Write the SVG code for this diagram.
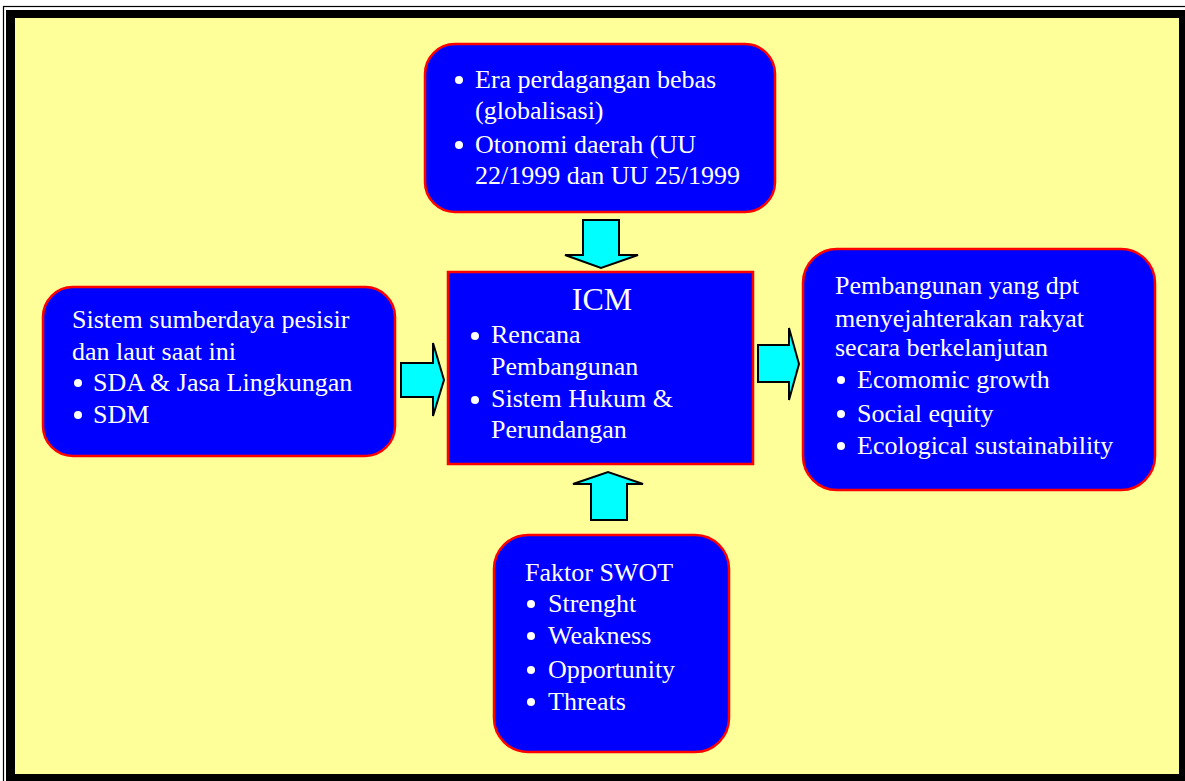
<svg xmlns="http://www.w3.org/2000/svg" width="1185" height="781" viewBox="0 0 1185 781">
<defs>
<style>
.box{fill:#0000FF;stroke:#FF0000;stroke-width:2.5}
.t{font-family:"Liberation Serif","Times New Roman",Tinos,"DejaVu Serif",serif;font-size:26px;fill:#FFFFFF}
.b{fill:#FFFFFF}
.arr{fill:#00FFFF;stroke:#000000;stroke-width:2;stroke-linejoin:miter}
</style>
</defs>
<rect x="0" y="0" width="1185" height="781" fill="#FFFFFF"/>
<rect x="3.5" y="6.5" width="1200" height="800" fill="none" stroke="#000000" stroke-width="1.2"/>
<rect x="6" y="10" width="1190" height="790" fill="#000000"/>
<rect x="15" y="18" width="1164" height="756" fill="#FFFF99"/>

<g id="connectors">
<polygon class="arr" points="583,220 619,220 619,255 638,255 601,268 565,255 583,255"/>
<polygon class="arr" points="591,520 627,520 627,484 643,484 608,472 573,484 591,484"/>
<polygon class="arr" points="401,363 433,363 433,343 444,380 433,416 433,397 401,397"/>
<polygon class="arr" points="758,345 789,345 789,328 799,364 789,400 789,382 758,382"/>
</g>

<g id="top">
<rect class="box" x="425" y="44" width="350" height="168" rx="30" ry="30"/>
<circle class="b" cx="459" cy="80" r="4"/>
<text class="t" x="475" y="88" font-family="Liberation Serif, serif">Era perdagangan bebas</text>
<text class="t" x="475" y="119" font-family="Liberation Serif, serif">(globalisasi)</text>
<circle class="b" cx="459" cy="145" r="4"/>
<text class="t" x="475" y="153" font-family="Liberation Serif, serif">Otonomi daerah (UU</text>
<text class="t" x="475" y="184" font-family="Liberation Serif, serif">22/1999 dan UU 25/1999</text>
</g>

<g id="icm">
<rect class="box" x="448" y="272" width="305" height="192"/>
<text class="t" x="602" y="310" text-anchor="middle" style="font-size:32px">ICM</text>
<circle class="b" cx="475" cy="336" r="4"/>
<text class="t" x="491" y="343">Rencana</text>
<text class="t" x="491" y="375">Pembangunan</text>
<circle class="b" cx="475" cy="400" r="4"/>
<text class="t" x="491" y="407">Sistem Hukum &amp;</text>
<text class="t" x="491" y="438">Perundangan</text>
</g>

<g id="left">
<rect class="box" x="43" y="287" width="352" height="169" rx="30" ry="30"/>
<text class="t" x="72" y="328">Sistem sumberdaya pesisir</text>
<text class="t" x="72" y="360">dan laut saat ini</text>
<circle class="b" cx="78" cy="383" r="4"/>
<text class="t" x="93" y="391">SDA &amp; Jasa Lingkungan</text>
<circle class="b" cx="78" cy="415" r="4"/>
<text class="t" x="93" y="423">SDM</text>
</g>

<g id="right">
<rect class="box" x="803" y="249" width="352" height="241" rx="34" ry="34"/>
<text class="t" x="835" y="294">Pembangunan yang dpt</text>
<text class="t" x="835" y="327">menyejahterakan rakyat</text>
<text class="t" x="835" y="356">secara berkelanjutan</text>
<circle class="b" cx="841" cy="380" r="4"/>
<text class="t" x="857" y="388">Ecomomic growth</text>
<circle class="b" cx="841" cy="414" r="4"/>
<text class="t" x="857" y="422">Social equity</text>
<circle class="b" cx="841" cy="446" r="4"/>
<text class="t" x="857" y="454">Ecological sustainability</text>
</g>

<g id="swot">
<rect class="box" x="494" y="535" width="235" height="217" rx="34" ry="34"/>
<text class="t" x="525" y="581">Faktor SWOT</text>
<circle class="b" cx="531" cy="604" r="4"/>
<text class="t" x="548" y="612">Strenght</text>
<circle class="b" cx="531" cy="636" r="4"/>
<text class="t" x="548" y="644">Weakness</text>
<circle class="b" cx="531" cy="670" r="4"/>
<text class="t" x="548" y="678">Opportunity</text>
<circle class="b" cx="531" cy="702" r="4"/>
<text class="t" x="548" y="710">Threats</text>
</g>
</svg>
